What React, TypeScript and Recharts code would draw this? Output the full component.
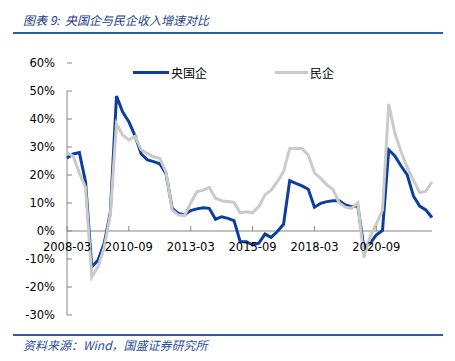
import React from "react";
import { LineChart, Line, XAxis, YAxis, ReferenceLine } from "recharts";

const quarters = [
  "2008-03", "2008-06", "2008-09", "2008-12",
  "2009-03", "2009-06", "2009-09", "2009-12",
  "2010-03", "2010-06", "2010-09", "2010-12",
  "2011-03", "2011-06", "2011-09", "2011-12",
  "2012-03", "2012-06", "2012-09", "2012-12",
  "2013-03", "2013-06", "2013-09", "2013-12",
  "2014-03", "2014-06", "2014-09", "2014-12",
  "2015-03", "2015-06", "2015-09", "2015-12",
  "2016-03", "2016-06", "2016-09", "2016-12",
  "2017-03", "2017-06", "2017-09", "2017-12",
  "2018-03", "2018-06", "2018-09", "2018-12",
  "2019-03", "2019-06", "2019-09", "2019-12",
  "2020-03", "2020-06", "2020-09", "2020-12",
  "2021-03", "2021-06", "2021-09", "2021-12",
  "2022-03", "2022-06", "2022-09", "2022-12",
];

// 央国企 revenue growth, %
const stateOwned = [
  26.1, 27.5, 28, 17.5, -12.8, -10.5, -4.5, 6.5,
  48.2, 42.5, 39, 34, 27.5, 25.4, 24.8, 24,
  20.5, 8.1, 6.3, 5.8, 7.3, 7.9, 8.3, 8.1,
  4.2, 5.1, 4.5, 3.7, -3.8, -3.8, -5, -4.4,
  -1.1, -2.3, -0.2, 2.4, 18, 17, 16.1, 14.9,
  8.5, 9.9, 10.5, 10.8, 10.8, 9.3, 8.7, 9,
  -6, -4.4, -1.4, 0.2, 29, 26.8, 23.2, 20,
  12.5, 8.9, 7.5, 4.8,
];

// 民企 revenue growth, %
const privateOwned = [
  28, 26.7, 20.7, 15.5, -16.5, -12.8, -6, 5.8,
  38.3, 34.3, 32.5, 33.8, 29, 27.7, 26.5, 26,
  21, 7.5, 5.7, 5.5, 10, 14, 14.6, 15.6,
  11.7, 10.8, 10.5, 10.2, 6.5, 6.9, 6.5, 8.7,
  12.9, 14.6, 17.6, 21.2, 29.5, 29.5, 29.5, 27.1,
  20.8, 18.8, 16.5, 14.8, 10, 8.5, 8.1, 10.1,
  -9.5, -2, 2.5, 7.5, 45.4, 34.9, 28.3, 22.7,
  18.2, 13.7, 14.2, 17.6,
];

const yTicks = [-30, -20, -10, 0, 10, 20, 30, 40, 50, 60];

const data = quarters.map((q, i) => ({
  q,
  soe: stateOwned[i],
  pri: privateOwned[i],
}));

const BLUE = "#0C3F9C";
const GRAY = "#CACACA";
const AXIS = "#868686";
const TICK_FONT = "'DejaVu Sans', Verdana, sans-serif";
const CJK_FONT = "'Noto Sans CJK SC', sans-serif";

const TOP = 63;
const PLOT_H = 252;
const Y_MIN = -30;
const Y_MAX = 60;
const zeroY = TOP + (PLOT_H * Y_MAX) / (Y_MAX - Y_MIN);

const YTick = ({ x, y, payload }: any) => (
  <g>
    <line x1={x} x2={x + 5} y1={y} y2={y} stroke={AXIS} />
    <text x={x - 12} y={y} dy="0.36em" textAnchor="end" fontSize={11.5} fontFamily={TICK_FONT} fill="#000">
      {payload.value}%
    </text>
  </g>
);

const XTick = ({ x, payload }: any) => (
  <g>
    <line x1={x} x2={x} y1={zeroY - 5} y2={zeroY} stroke={AXIS} />
    <text x={x} y={zeroY + 16} dy="0.36em" textAnchor="middle" fontSize={11.5} fontFamily={TICK_FONT} fill="#000">
      {payload.value}
    </text>
  </g>
);

export default function App() {
  return (
    <div style={{ position: "absolute", left: 0, top: 0, width: 455, height: 361, background: "#fff" }}>
      <div
        style={{
          position: "absolute", left: 23, top: 11, fontSize: 12, fontStyle: "italic",
          color: "#1E3F8A", fontFamily: CJK_FONT, whiteSpace: "nowrap",
        }}
      >
        图表 9:&nbsp;&nbsp;央国企与民企收入增速对比
      </div>
      <div style={{ position: "absolute", left: 13, top: 32, width: 430, height: 2, background: "#2E5CA6" }} />

      <LineChart width={455} height={361} data={data} margin={{ top: TOP, right: 23, bottom: 16, left: 17 }}>
        <XAxis
          dataKey="q"
          interval={9}
          axisLine={false}
          tickLine={false}
          tickSize={0}
          tickMargin={0}
          height={30}
          tick={<XTick />}
        />
        <YAxis
          domain={[Y_MIN, Y_MAX]}
          ticks={yTicks}
          width={50}
          axisLine={false}
          tickLine={false}
          tickSize={0}
          tickMargin={0}
          tick={<YTick />}
          allowDataOverflow
        />
        <ReferenceLine y={0} stroke={AXIS} />
        <ReferenceLine
          segment={[{ x: quarters[0], y: -30 }, { x: quarters[0], y: 50 }]}
          stroke={AXIS}
        />
        <Line type="linear" dataKey="soe" stroke={BLUE} strokeWidth={3} dot={false} isAnimationActive={false} />
        <Line type="linear" dataKey="pri" stroke={GRAY} strokeWidth={3} dot={false} isAnimationActive={false} />
      </LineChart>

      <div style={{ position: "absolute", left: 133, top: 64, display: "flex", alignItems: "center", fontFamily: CJK_FONT, fontSize: 12, color: "#000" }}>
        <span style={{ display: "inline-block", width: 36, height: 3, background: BLUE, marginRight: 2 }} />
        <span>央国企</span>
      </div>
      <div style={{ position: "absolute", left: 275, top: 64, display: "flex", alignItems: "center", fontFamily: CJK_FONT, fontSize: 12, color: "#000" }}>
        <span style={{ display: "inline-block", width: 33, height: 3, background: GRAY, marginRight: 2 }} />
        <span>民企</span>
      </div>

      <div style={{ position: "absolute", left: 13, top: 334, width: 430, height: 1.5, background: "#2E5CA6" }} />
      <div
        style={{
          position: "absolute", left: 23, top: 336, fontSize: 12, fontStyle: "italic",
          color: "#2A4E9C", fontFamily: CJK_FONT, whiteSpace: "nowrap",
        }}
      >
        资料来源：Wind，国盛证券研究所
      </div>
    </div>
  );
}
